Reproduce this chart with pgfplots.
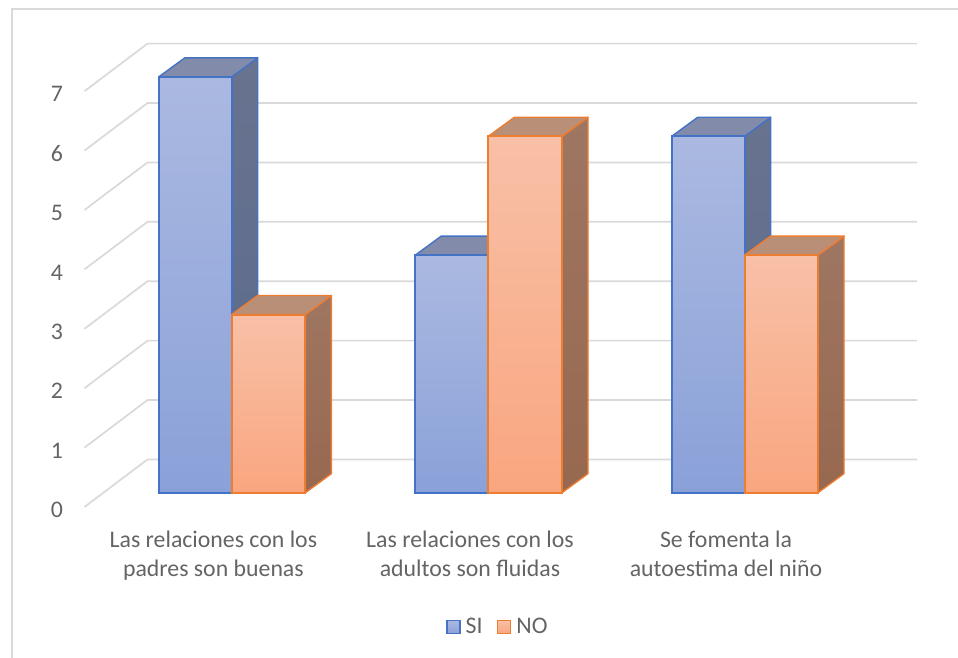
\documentclass[border=0pt]{standalone}
\usepackage{pgfplots}
\pgfplotsset{compat=1.18}
\usepackage{fontspec}
\setmainfont{Carlito}
\definecolor{bline}{RGB}{68,114,196}
\definecolor{oline}{RGB}{237,125,49}
\definecolor{btop}{RGB}{171,185,225}
\definecolor{bbot}{RGB}{138,161,216}
\definecolor{otop}{RGB}{248,192,167}
\definecolor{obot}{RGB}{249,166,127}
\definecolor{bside}{RGB}{104,115,143}
\definecolor{bsideb}{RGB}{90,105,140}
\definecolor{bcap}{RGB}{130,140,170}
\definecolor{oside}{RGB}{158,118,98}
\definecolor{osideb}{RGB}{152,104,80}
\definecolor{ocap}{RGB}{186,143,120}
\definecolor{gridc}{RGB}{217,217,217}
\definecolor{txt}{RGB}{100,100,100}
% #1 x left, #2 x right, #3 x back right, #4 value, #5 value plus depth, #6 prefix b or o, #7 legend flag
\newcommand{\OneBar}[7]{%
  \addplot[forget plot,draw=#6line,line width=1.4pt,line join=round,top color=#6side,bottom color=#6sideb]
    coordinates {(#2,0) (#3,0.32) (#3,#5) (#2,#4)} --cycle;
  \addplot[forget plot,draw=#6line,line width=1.4pt,line join=round,fill=#6cap]
    coordinates {(#1,#4) (#2,#4) (#3,#5) (#1+26,#5)} --cycle;
  \addplot[#7,draw=#6line,line width=2pt,line join=miter,top color=#6top,bottom color=#6bot]
    coordinates {(#1,0) (#2,0) (#2,#4) (#1,#4)} --cycle;
}
\begin{document}
\begin{tikzpicture}[x=1pt,y=1pt]
\useasboundingbox (0,0) rectangle (958,658);
\begin{axis}[
  at={(0pt,165.3pt)},anchor=south west,
  scale only axis,width=958pt,height=492.7pt,
  xmin=0,xmax=958,ymin=0,ymax=8.295,
  clip=false,
  axis line style={draw=none},
  tick style={draw=none},
  xtick={213.4,470,726},
  xticklabels={{Las relaciones con los\\padres son buenas},{Las relaciones con los\\adultos son fluidas},{Se fomenta la\\autoestima del niño}},
  x tick label style={align=center,font=\fontsize{23.8}{28.5}\selectfont,text=txt,anchor=north,yshift=-35pt},
  ytick={0,1,2,3,4,5,6,7},
  y tick label style={font=\fontsize{23.8}{24}\selectfont,text=txt,anchor=center,xshift=57pt,yshift=-17.3pt},
  /pgf/number format/assume math mode=true,
  legend style={draw=none,fill=none,at={(axis cs:442.5,-2.26)},anchor=west,legend columns=2,
    font=\fontsize{23.8}{24}\selectfont,text=txt,
    /tikz/every even column/.append style={column sep=12pt}},
  legend cell align=left,
  legend image code/.code={\draw[#1,line width=1.8pt] (0pt,-6.5pt) rectangle (13pt,6.5pt);\path (16pt,0pt);},
]
% frame
\addplot[forget plot,gridc,line width=1.7pt] coordinates {(11.7,-2.783) (11.7,8.149) (958,8.149)};
% back grid and wall
\pgfplotsinvokeforeach{0,1,2,3,4,5,6,7}{
  \addplot[forget plot,gridc,line width=1.7pt] coordinates {(84.5,#1-0.24) (147.5,#1+0.56) (917,#1+0.56)};
}
\OneBar{158.7}{231.7}{257.7}{7}{7.32}{b}{}
\OneBar{231.7}{305.4}{331.4}{3}{3.32}{o}{forget plot}
\OneBar{415.3}{488.3}{514.3}{4}{4.32}{b}{forget plot}
\OneBar{488.3}{562}{588}{6}{6.32}{o}{}
\OneBar{671.7}{744.6}{770.6}{6}{6.32}{b}{forget plot}
\OneBar{744.6}{818}{844}{4}{4.32}{o}{forget plot}
\legend{SI,NO}
\end{axis}
\end{tikzpicture}
\end{document}
